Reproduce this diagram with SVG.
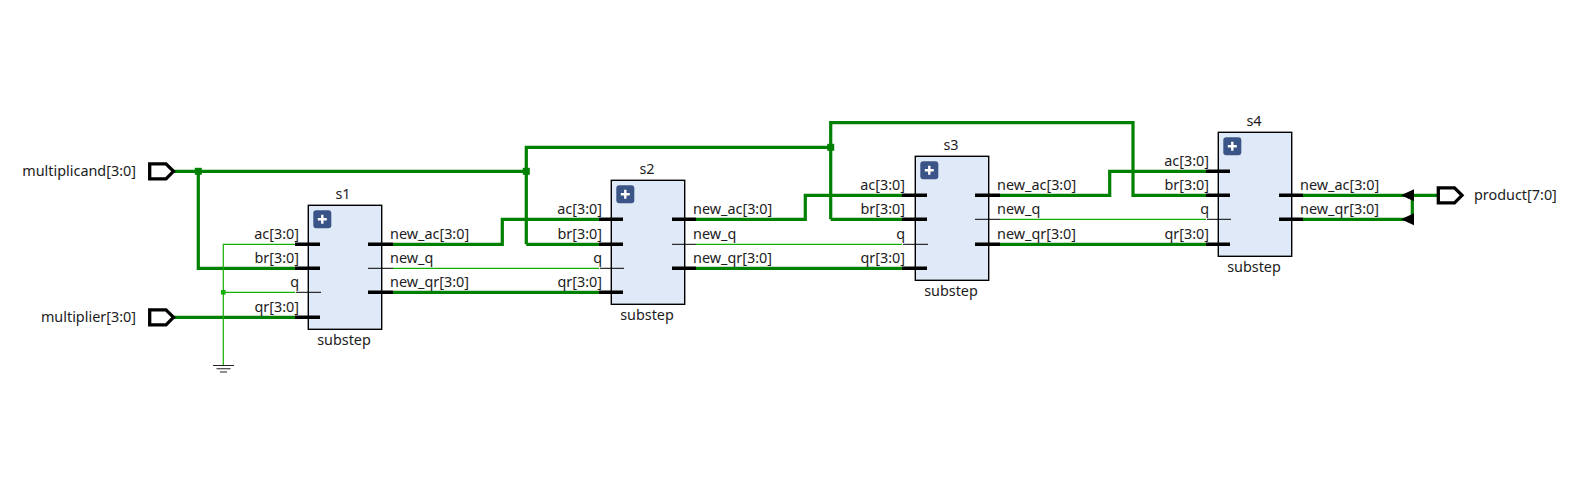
<svg xmlns="http://www.w3.org/2000/svg" width="1589" height="486" viewBox="0 0 1589 486">
<style>
text{font-family:"Noto Sans","Open Sans",sans-serif;font-size:14.4px;fill:#1a1a1a;opacity:.99}
.e{text-anchor:end}.m{text-anchor:middle}
.box{fill:#dfe9f7;stroke:#000;stroke-width:1.4}
.plus{fill:#3a5488}
.plusm{stroke:#fff;stroke-width:2.4;fill:none}
.pb{stroke:#000;stroke-width:3.4;fill:none}
.pt{stroke:#000;stroke-width:1;fill:none}
.bus{stroke:#008000;stroke-width:3.2;fill:none}
.sig{stroke:#12b000;stroke-width:1.2;fill:none}
.port{fill:#fff;stroke:#000;stroke-width:3.3}
.gnd{stroke:#222;stroke-width:1.1;fill:none}
</style>
<defs>
<g id="pl"><rect width="18" height="18" rx="3" class="plus"/><path d="M9 4.500V13.500M4.500 9H13.500" class="plusm"/></g>
</defs>
<rect width="1589" height="486" fill="#fff"/>
<g id="connectors">
<path class="bus" d="M173 171.300H526.300M198.300 171.300V268.300H295M526.300 244.300V147.300H830.700M526.300 244.300H599M830.700 219.300V122.700H1133V195.300H1206M830.700 219.300H902"/>
<path class="bus" d="M173 317.300H295M393 244.300H502.300V219.300H599M393 292.300H599M696 219.300H805.300V195.300H902M696 268.300H902M1000 195.300H1109.700V171.300H1206M1000 244.300H1206M1303 195.300H1437M1303 219.300H1412.300V195.300"/>
<path class="sig" d="M295 244.300H223.300V365M223.300 292.300H295M393 268.300H599M696 244.300H902M1000 219.300H1206"/>
<path class="gnd" d="M213 365.500H234M216.500 368.800H230.500M220 372H227"/>
<rect x="194.800" y="167.800" width="7" height="7" fill="#008000"/>
<rect x="522.800" y="167.800" width="7" height="7" fill="#008000"/>
<rect x="827.200" y="143.800" width="7" height="7" fill="#008000"/>
<rect x="221" y="290" width="4.600" height="4.600" fill="#12b000"/>
<path d="M1401 195.300L1414 189.300V201.300ZM1401 219.300L1414 213.300V225.300Z" fill="#000"/>
</g>
<g id="multiplicand"><path class="port" d="M149.700 163.800H166L173.500 171.300L166 178.800H149.700Z"/><text class="e" x="136" y="176">multiplicand[3:0]</text></g>
<g id="multiplier"><path class="port" d="M149.700 309.800H166L173.500 317.300L166 324.800H149.700Z"/><text class="e" x="136" y="322">multiplier[3:0]</text></g>
<g id="product"><path class="port" d="M1438.300 187.800H1454.500L1462 195.300L1454.500 202.800H1438.300Z"/><text x="1474" y="200">product[7:0]</text></g>
<g id="s1">
<rect class="box" x="308.300" y="205.300" width="73.400" height="124"/><use href="#pl" x="313.300" y="210.300"/>
<path class="pb" d="M295 244.300H320M295 268.300H320M295 317.300H320M368 244.300H393M368 292.300H393"/><path class="pt" d="M296 292.300H321M368 268.300H393"/>
<text class="m" x="343" y="199">s1</text><text class="m" x="344" y="345">substep</text>
<text class="e" x="299" y="239">ac[3:0]</text><text class="e" x="299" y="263">br[3:0]</text><text class="e" x="299" y="287">q</text><text class="e" x="299" y="312">qr[3:0]</text>
<text x="390" y="239">new_ac[3:0]</text><text x="390" y="263">new_q</text><text x="390" y="287">new_qr[3:0]</text>
</g>
<g id="s2">
<rect class="box" x="611.300" y="180.300" width="73.400" height="124"/><use href="#pl" x="616.300" y="185.300"/>
<path class="pb" d="M599 219.300H623M599 244.300H623M599 292.300H623M672 219.300H696M672 268.300H696"/><path class="pt" d="M600 268.300H624M672 244.300H696"/>
<text class="m" x="647" y="174">s2</text><text class="m" x="647" y="320">substep</text>
<text class="e" x="602" y="214">ac[3:0]</text><text class="e" x="602" y="239">br[3:0]</text><text class="e" x="602" y="263">q</text><text class="e" x="602" y="287">qr[3:0]</text>
<text x="693" y="214">new_ac[3:0]</text><text x="693" y="239">new_q</text><text x="693" y="263">new_qr[3:0]</text>
</g>
<g id="s3">
<rect class="box" x="915.300" y="156.300" width="73.400" height="124"/><use href="#pl" x="920.300" y="161.300"/>
<path class="pb" d="M902 195.300H927M902 219.300H927M902 268.300H927M975 195.300H1000M975 244.300H1000"/><path class="pt" d="M903 244.300H928M975 219.300H1000"/>
<text class="m" x="951" y="150">s3</text><text class="m" x="951" y="296">substep</text>
<text class="e" x="905" y="190">ac[3:0]</text><text class="e" x="905" y="214">br[3:0]</text><text class="e" x="905" y="239">q</text><text class="e" x="905" y="263">qr[3:0]</text>
<text x="997" y="190">new_ac[3:0]</text><text x="997" y="214">new_q</text><text x="997" y="239">new_qr[3:0]</text>
</g>
<g id="s4">
<rect class="box" x="1218.300" y="132.300" width="73.400" height="124"/><use href="#pl" x="1223.300" y="137.300"/>
<path class="pb" d="M1206 171.300H1230M1206 195.300H1230M1206 244.300H1230M1279 195.300H1303M1279 219.300H1303"/><path class="pt" d="M1207 219.300H1231"/>
<text class="m" x="1254" y="126">s4</text><text class="m" x="1254" y="272">substep</text>
<text class="e" x="1209" y="166">ac[3:0]</text><text class="e" x="1209" y="190">br[3:0]</text><text class="e" x="1209" y="214">q</text><text class="e" x="1209" y="239">qr[3:0]</text>
<text x="1300" y="190">new_ac[3:0]</text><text x="1300" y="214">new_qr[3:0]</text>
</g>
</svg>
